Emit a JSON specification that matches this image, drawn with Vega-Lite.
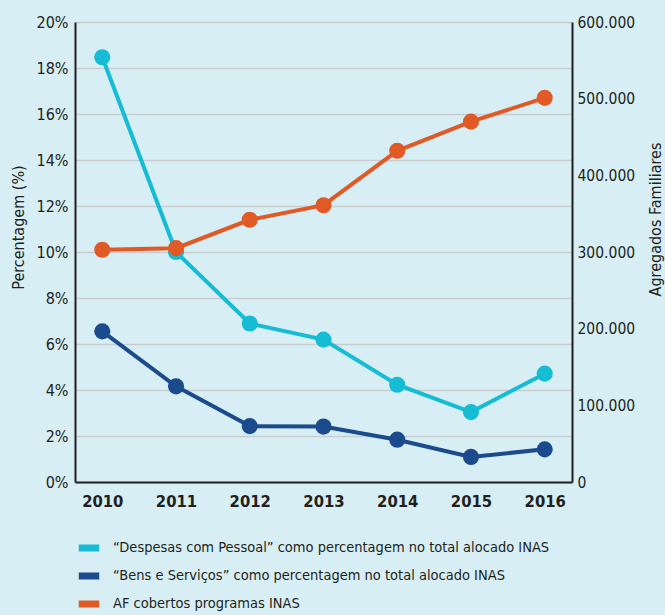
{
  "$schema": "https://vega.github.io/schema/vega-lite/v6.json",
  "width": 497,
  "height": 460,
  "autosize": {"type": "none"},
  "padding": {"left": 75, "top": 22, "right": 93, "bottom": 133},
  "background": "#d6eef4",
  "config": {
    "font": "DejaVu Sans Condensed, sans-serif",
    "view": {"stroke": null},
    "axis": {"labelColor": "#231f20", "titleColor": "#231f20", "domainColor": "#231f20", "domainWidth": 2, "ticks": false, "titleFontWeight": "normal"}
  },
  "data": {
    "values": [
      {"year": "2010", "series": "“Despesas com Pessoal” como percentagem no total alocado INAS", "value": 18.47},
      {"year": "2011", "series": "“Despesas com Pessoal” como percentagem no total alocado INAS", "value": 10.0},
      {"year": "2012", "series": "“Despesas com Pessoal” como percentagem no total alocado INAS", "value": 6.89},
      {"year": "2013", "series": "“Despesas com Pessoal” como percentagem no total alocado INAS", "value": 6.19},
      {"year": "2014", "series": "“Despesas com Pessoal” como percentagem no total alocado INAS", "value": 4.23},
      {"year": "2015", "series": "“Despesas com Pessoal” como percentagem no total alocado INAS", "value": 3.04},
      {"year": "2016", "series": "“Despesas com Pessoal” como percentagem no total alocado INAS", "value": 4.71},
      {"year": "2010", "series": "“Bens e Serviços” como percentagem no total alocado INAS", "value": 6.55},
      {"year": "2011", "series": "“Bens e Serviços” como percentagem no total alocado INAS", "value": 4.16},
      {"year": "2012", "series": "“Bens e Serviços” como percentagem no total alocado INAS", "value": 2.43},
      {"year": "2013", "series": "“Bens e Serviços” como percentagem no total alocado INAS", "value": 2.41},
      {"year": "2014", "series": "“Bens e Serviços” como percentagem no total alocado INAS", "value": 1.84},
      {"year": "2015", "series": "“Bens e Serviços” como percentagem no total alocado INAS", "value": 1.09},
      {"year": "2016", "series": "“Bens e Serviços” como percentagem no total alocado INAS", "value": 1.42},
      {"year": "2010", "series": "AF cobertos programas INAS", "value": 303000},
      {"year": "2011", "series": "AF cobertos programas INAS", "value": 305000},
      {"year": "2012", "series": "AF cobertos programas INAS", "value": 342000},
      {"year": "2013", "series": "AF cobertos programas INAS", "value": 361000},
      {"year": "2014", "series": "AF cobertos programas INAS", "value": 432000},
      {"year": "2015", "series": "AF cobertos programas INAS", "value": 470000},
      {"year": "2016", "series": "AF cobertos programas INAS", "value": 501000}
    ]
  },
  "encoding": {
    "x": {
      "field": "year", "type": "ordinal",
      "scale": {"type": "point", "padding": 0.37},
      "axis": {"title": null, "labelAngle": 0, "labelFontSize": 16.5, "labelFontWeight": "bold", "labelPadding": 11, "grid": false}
    },
    "color": {
      "field": "series", "type": "nominal",
      "scale": {
        "domain": ["“Despesas com Pessoal” como percentagem no total alocado INAS", "“Bens e Serviços” como percentagem no total alocado INAS", "AF cobertos programas INAS"],
        "range": ["#15bcd4", "#1b4b8c", "#e15a26"]
      },
      "legend": {
        "title": null, "orient": "none", "legendX": 0, "legendY": 512,
        "symbolType": "stroke", "symbolStrokeWidth": 7, "symbolSize": 420,
        "labelFontSize": 14.5, "labelColor": "#231f20", "labelOffset": 10, "rowPadding": 0, "padding": 0, "labelLimit": 600
      }
    }
  },
  "layer": [
    {
      "transform": [{"filter": "datum.series != 'AF cobertos programas INAS'"}],
      "mark": {"type": "line", "strokeWidth": 4, "point": {"filled": true, "size": 260, "opacity": 1}},
      "encoding": {
        "y": {
          "field": "value", "type": "quantitative",
          "scale": {"domain": [0, 20], "nice": false},
          "axis": {"title": "Percentagem (%)", "titleFontSize": 16, "titleX": -57, "titleY": 205, "titleAngle": -90, "titleBaseline": "middle", "titleAlign": "center",
                   "values": [0, 2, 4, 6, 8, 10, 12, 14, 16, 18, 20], "labelExpr": "datum.value + '%'", "labelFontSize": 16, "labelPadding": 7,
                   "grid": true, "gridColor": "#c9cdd0", "gridWidth": 1.5}
        }
      }
    },
    {
      "transform": [{"filter": "datum.series == 'AF cobertos programas INAS'"}],
      "mark": {"type": "line", "strokeWidth": 4, "point": {"filled": true, "size": 260, "opacity": 1}},
      "encoding": {
        "y": {
          "field": "value", "type": "quantitative",
          "scale": {"domain": [0, 600000], "nice": false},
          "axis": {"orient": "right", "title": "Agregados Familiares", "titleFontSize": 16, "titleX": 83, "titleY": 197, "titleAngle": -90, "titleBaseline": "middle", "titleAlign": "center",
                   "values": [0, 100000, 200000, 300000, 400000, 500000, 600000], "labelExpr": "replace(format(datum.value, ','), ',', '.')", "labelFontSize": 15.5, "labelPadding": 5, "grid": false}
        }
      }
    }
  ],
  "resolve": {"scale": {"y": "independent"}}
}
